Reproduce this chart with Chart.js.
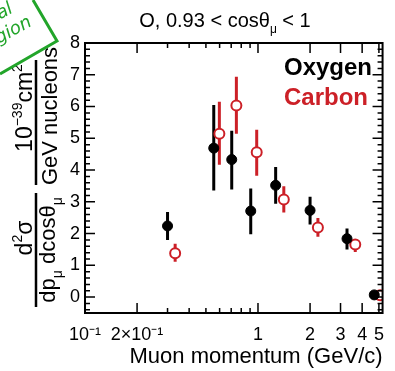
<!DOCTYPE html>
<html>
<head>
    <title>O, 0.93 &lt; cos&theta; &lt; 1</title>
    <script src="https://cdn.jsdelivr.net/npm/chart.js"></script>
    <style>
        html, body { margin: 0; padding: 0; background: #fff; }
        #wrap { position: relative; width: 395px; height: 371px; }
    </style>
</head>
<body>
<div id="wrap"><canvas id="chart"></canvas></div>
<script>
    // values
    const oxygenP = [0.30, 0.555, 0.705, 0.908, 1.265, 2.0, 3.27, 4.70];
    const oxygenXs = [2.24, 4.69, 4.33, 2.71, 3.52, 2.73, 1.84, 0.07];
    const oxygenLo = [1.80, 3.36, 3.39, 1.98, 2.94, 2.29, 1.50, 0.07];
    const oxygenHi = [2.68, 6.05, 5.24, 3.42, 4.10, 3.16, 2.16, 0.07];

    const carbonP = [0.332, 0.598, 0.75, 0.983, 1.41, 2.22, 3.65, 5.08];
    const carbonXs = [1.38, 5.14, 6.03, 4.56, 3.07, 2.19, 1.66, 0.06];
    const carbonLo = [1.11, 4.17, 5.14, 3.82, 2.66, 1.90, 1.42, 0.06];
    const carbonHi = [1.68, 6.15, 6.94, 5.27, 3.49, 2.49, 1.77, 0.06];

    const xTickVals = [0.1, 0.2, 1, 2, 3, 4, 5];
    const xTickLabels = ['10\u207B\u00B9', '2\u00D710\u207B\u00B9', '1', '2', '3', '4', '5'];
    const xMinorVals = [0.3, 0.4, 0.5, 0.6, 0.7, 0.8, 0.9];
    const yTickVals = [0, 1, 2, 3, 4, 5, 6, 7, 8];

    const FONT = '"Liberation Sans", Arial, Helvetica, sans-serif';
    const RED = '#cc2027';

    const pts = (xs, ys) => xs.map((x, i) => ({x: x, y: ys[i]}));

    // draws a run of text pieces, some raised or lowered, centred on (cx, baseline by)
    function richText(ctx, parts, cx, by, size) {
        let w = 0;
        parts.forEach(p => {
            ctx.font = (p.s ? Math.round(size * 0.62) : size) + 'px ' + FONT;
            p.w = ctx.measureText(p.t).width;
            w += p.w;
        });
        let x = cx - w / 2;
        ctx.textAlign = 'left';
        ctx.textBaseline = 'alphabetic';
        parts.forEach(p => {
            ctx.font = (p.s ? Math.round(size * 0.62) : size) + 'px ' + FONT;
            let dy = 0;
            if (p.s === 'up') dy = -size * 0.42;
            if (p.s === 'down') dy = size * 0.3;
            ctx.fillText(p.t, x, by + dy);
            x += p.w;
        });
    }

    const errorBars = {
        id: 'errorBars',
        beforeDatasetsDraw(chart) {
            const ctx = chart.ctx, a = chart.chartArea, y = chart.scales.y;
            ctx.save();
            ctx.beginPath();
            ctx.rect(a.left, a.top, a.right - a.left, a.bottom - a.top);
            ctx.clip();
            chart.data.datasets.forEach((ds, i) => {
                const meta = chart.getDatasetMeta(i);
                ctx.strokeStyle = ds.borderColor;
                ctx.lineWidth = 3;
                meta.data.forEach((el, j) => {
                    ctx.beginPath();
                    ctx.moveTo(el.x, y.getPixelForValue(ds.errLo[j]));
                    ctx.lineTo(el.x, y.getPixelForValue(ds.errHi[j]));
                    ctx.stroke();
                });
            });
            ctx.restore();
        }
    };

    const frame = {
        id: 'frame',
        afterDraw(chart) {
            const ctx = chart.ctx, a = chart.chartArea;
            const xs = chart.scales.x, ys = chart.scales.y;
            ctx.save();
            ctx.strokeStyle = '#000';
            ctx.lineWidth = 1.5;
            // x ticks, bottom and top, pointing inside
            const xt = [];
            xTickVals.forEach(v => xt.push([v, 10]));
            xMinorVals.forEach(v => xt.push([v, 5]));
            ctx.beginPath();
            xt.forEach(([v, len]) => {
                const px = xs.getPixelForValue(v);
                ctx.moveTo(px, a.bottom); ctx.lineTo(px, a.bottom - len);
                ctx.moveTo(px, a.top); ctx.lineTo(px, a.top + len);
            });
            // y ticks, left and right
            for (let k = -2; k <= 40; k++) {
                const v = k / 5;
                const len = (k % 5 === 0) ? 10 : 5;
                const py = ys.getPixelForValue(v);
                if (py > a.bottom) continue;
                ctx.moveTo(a.left, py); ctx.lineTo(a.left + len, py);
                ctx.moveTo(a.right, py); ctx.lineTo(a.right - len, py);
            }
            ctx.stroke();
            ctx.lineWidth = 2;
            ctx.strokeRect(a.left, a.top, a.right - a.left, a.bottom - a.top);

            // title
            ctx.fillStyle = '#000';
            richText(ctx, [{t: 'O, 0.93 < cos\u03B8'}, {t: '\u03BC', s: 'down'}, {t: ' < 1'}], 225, 27, 20);

            // legend words
            ctx.textAlign = 'center';
            ctx.textBaseline = 'alphabetic';
            ctx.font = 'bold 24px ' + FONT;
            ctx.fillStyle = '#000';
            ctx.fillText('Oxygen', 328, 75);
            ctx.fillStyle = RED;
            ctx.fillText('Carbon', 326, 105);

            // y axis label, two stacked fractions turned on their side
            ctx.fillStyle = '#000';
            ctx.save();
            ctx.rotate(-Math.PI / 2);
            richText(ctx, [{t: 'd'}, {t: '2', s: 'up'}, {t: '\u03C3'}], -238, 32, 23);
            richText(ctx, [{t: 'dp'}, {t: '\u03BC', s: 'down'}, {t: ' dcos\u03B8'}, {t: '\u03BC', s: 'down'}], -250, 55, 22);
            richText(ctx, [{t: '10'}, {t: '\u221239', s: 'up'}, {t: 'cm'}, {t: '2', s: 'up'}], -108, 32, 23);
            richText(ctx, [{t: 'GeV nucleons'}], -116, 57, 22);
            ctx.restore();
            ctx.lineWidth = 2.5;
            ctx.beginPath();
            ctx.moveTo(36, 193); ctx.lineTo(36, 307);
            ctx.moveTo(36, 60); ctx.lineTo(36, 185);
            ctx.stroke();

            // green hand-drawn note in the corner
            ctx.strokeStyle = '#22a52a';
            ctx.fillStyle = '#22a52a';
            ctx.lineWidth = 3;
            ctx.beginPath();
            ctx.moveTo(33, 0); ctx.lineTo(57, 41); ctx.lineTo(0, 74);
            ctx.stroke();
            ctx.save();
            ctx.translate(17, 34);
            ctx.rotate(-0.5);
            ctx.font = 'italic 18px "DejaVu Sans", sans-serif';
            ctx.textAlign = 'right';
            ctx.fillText('region', 18, 0);
            ctx.fillText('signal', 8, -21);
            ctx.restore();
            ctx.restore();
        }
    };

    new Chart(document.getElementById('chart'), {
        type: 'scatter',
        data: {
            datasets: [{
                label: 'Oxygen',
                data: pts(oxygenP, oxygenXs),
                errLo: oxygenLo,
                errHi: oxygenHi,
                borderColor: '#000',
                backgroundColor: '#000',
                pointRadius: 5,
                borderWidth: 1,
                clip: 0
            }, {
                label: 'Carbon',
                data: pts(carbonP, carbonXs),
                errLo: carbonLo,
                errHi: carbonHi,
                borderColor: RED,
                backgroundColor: '#fff',
                pointRadius: 5,
                borderWidth: 2,
                clip: 0
            }]
        },
        options: {
            responsive: true,
            maintainAspectRatio: false,
            animation: false,
            events: [],
            layout: { padding: { top: 43, right: 7, left: 0, bottom: 0 } },
            plugins: { legend: { display: false }, tooltip: { enabled: false } },
            scales: {
                x: {
                    type: 'logarithmic',
                    min: 0.1,
                    max: 5.25,
                    grid: { display: false, drawTicks: false },
                    border: { display: false },
                    afterBuildTicks: s => { s.ticks = xTickVals.map(v => ({value: v})); },
                    afterFit: s => { s.height = 58; },
                    ticks: {
                        autoSkip: false,
                        maxRotation: 0,
                        padding: 11,
                        color: '#000',
                        font: { size: 18, family: FONT },
                        callback: (v, i) => xTickLabels[i]
                    },
                    title: {
                        display: true,
                        text: 'Muon momentum (GeV/c)',
                        align: 'end',
                        color: '#000',
                        font: { size: 22, family: FONT },
                        padding: { top: 0, bottom: 1 }
                    }
                },
                y: {
                    min: -0.5,
                    max: 8,
                    grid: { display: false, drawTicks: false },
                    border: { display: false },
                    afterBuildTicks: s => { s.ticks = yTickVals.map(v => ({value: v})); },
                    afterFit: s => { s.width = 85; },
                    ticks: {
                        padding: 5,
                        color: '#000',
                        font: { size: 18, family: FONT }
                    }
                }
            }
        },
        plugins: [errorBars, frame]
    });
</script>
</body>
</html>
